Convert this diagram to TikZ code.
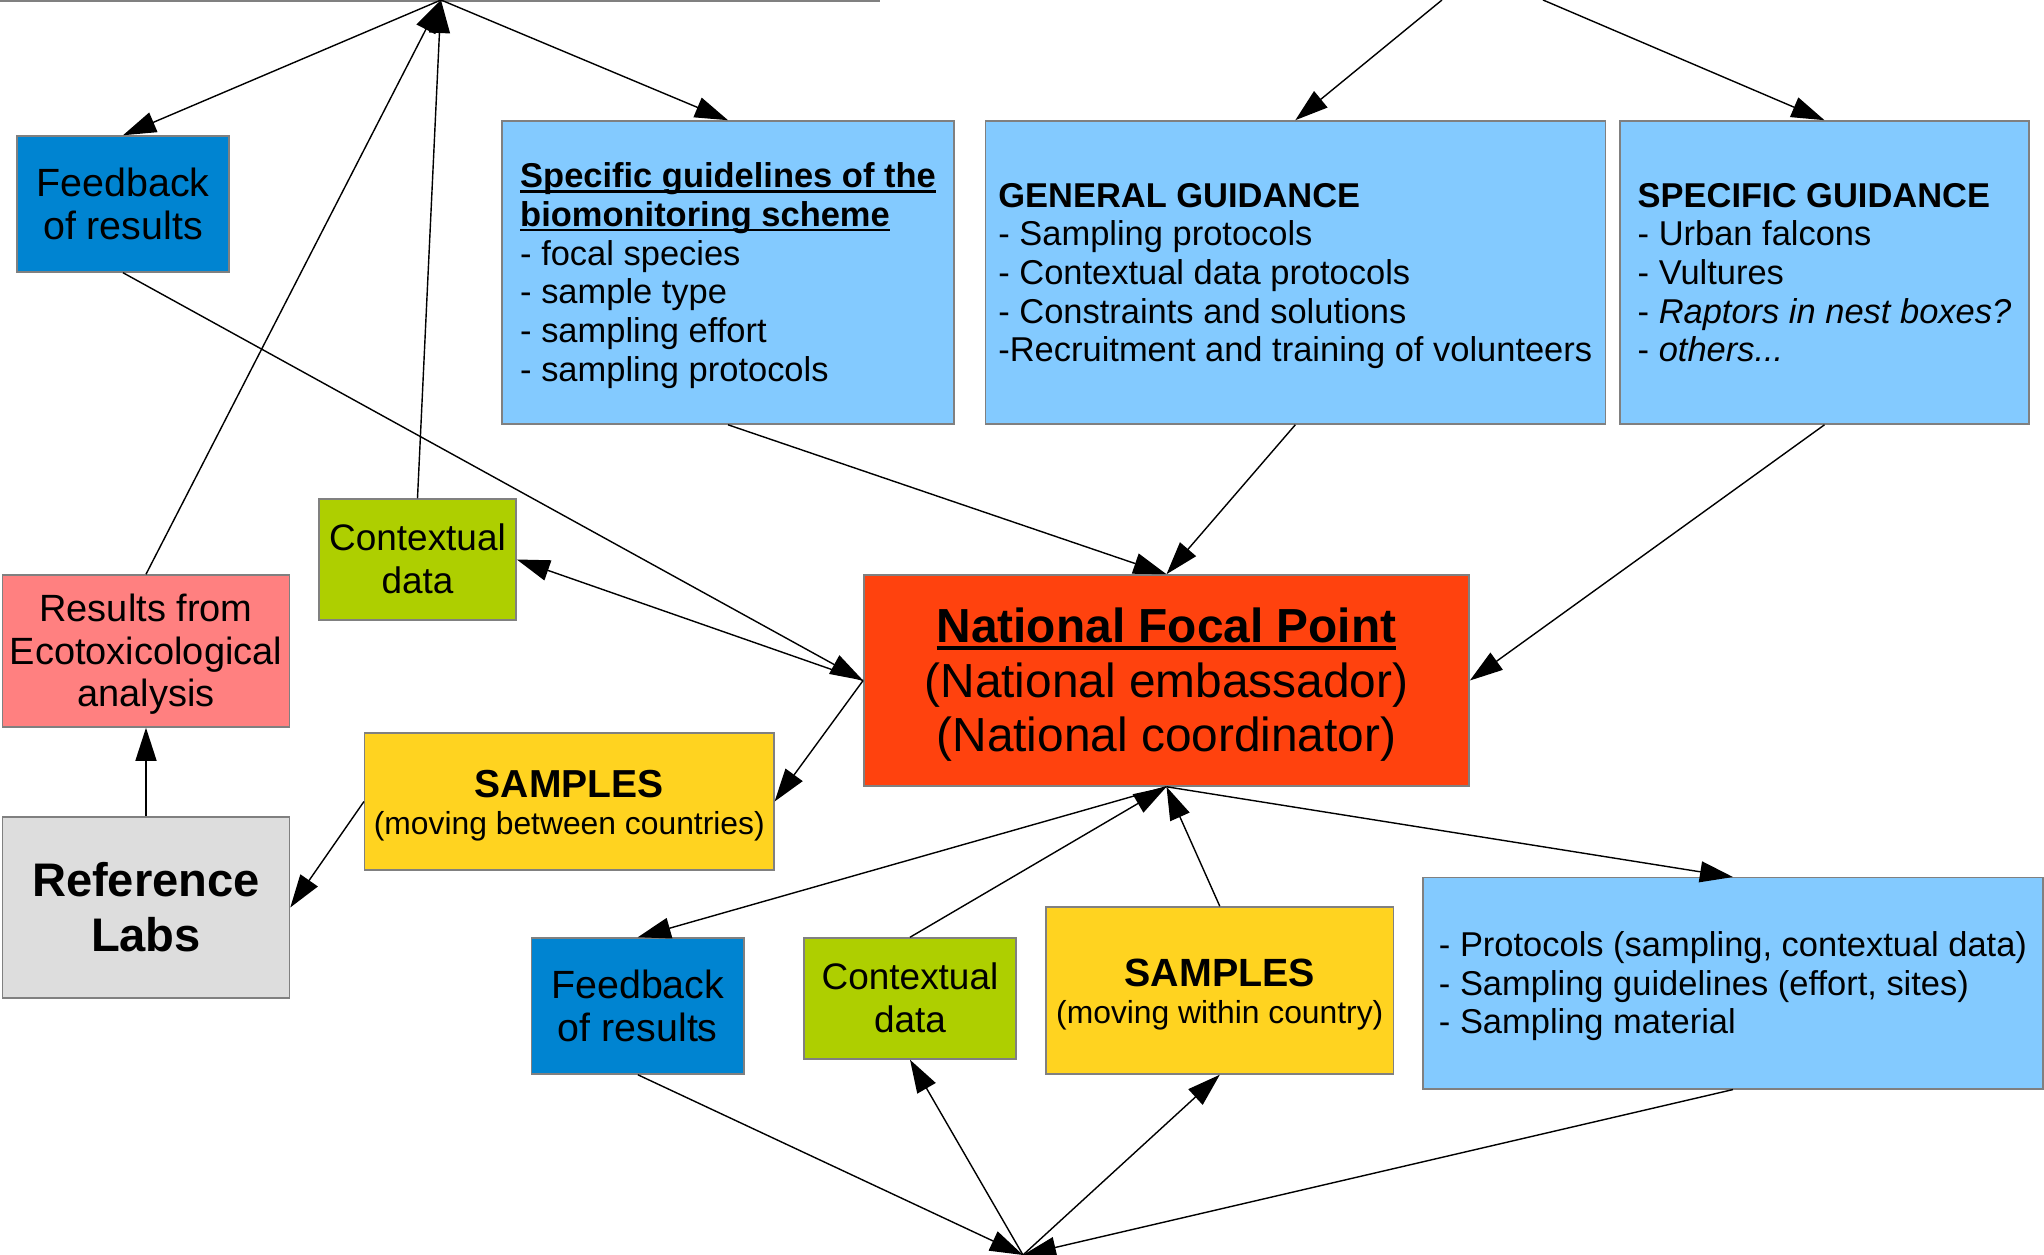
\documentclass[tikz,border=0pt]{standalone}
\usepackage{fontspec}
\setmainfont{Liberation Sans}
\usetikzlibrary{arrows.meta}

\definecolor{fbblue}{HTML}{0084D1}
\definecolor{guideblue}{HTML}{83CAFF}
\definecolor{ctxgreen}{HTML}{AECF00}
\definecolor{respink}{HTML}{FF8080}
\definecolor{nfporange}{HTML}{FF420E}
\definecolor{sampyellow}{HTML}{FFD320}
\definecolor{labgray}{HTML}{DDDDDD}
\definecolor{edgegray}{HTML}{808080}

% line box struts (ascent / descent of the font)
\newcommand\tstr{\rule{0pt}{0.905em}}
\newcommand\bstr{\rule[-0.212em]{0pt}{0pt}}
% underline close to the baseline, through the descenders
\newcommand\ultext[1]{\setbox0=\hbox{#1}\rlap{\rule[-0.143em]{\wd0}{0.075em}}\box0}

\begin{document}
\begin{tikzpicture}[x=0.01cm, y=-0.01cm,
	box/.style={draw=edgegray, line width=0.4pt, inner sep=0pt, text=black},
	guide/.style={box, fill=guideblue, align=left, font=\fontsize{9.8pt}{11pt}\selectfont},
	fbbox/.style={box, fill=fbblue, align=center, minimum width=2.12cm, minimum height=1.36cm, font=\fontsize{11.2pt}{12.2pt}\selectfont},
	ctxbox/.style={box, fill=ctxgreen, align=center, minimum width=2.0cm, minimum height=1.21cm, font=\fontsize{10.5pt}{12.2pt}\selectfont},
	sampbox/.style={box, fill=sampyellow, align=center, font=\fontsize{9.05pt}{10.6pt}\selectfont},
	conn/.style={-{Triangle[length=3.3mm,width=2.1mm]}, line width=0.4pt, black}]

\useasboundingbox (0,0) rectangle (2044,1255);

% remnant of the frame above
\draw[edgegray, line width=0.6pt] (0,1) -- (880,1);

\coordinate (hubTL) at (441,0);
\coordinate (hubTRa) at (1442,0);
\coordinate (hubTRb) at (1543,0);
\coordinate (hubB) at (1023,1255);

% top row
\node[fbbox] (fbTop) at (123,204) {\tstr Feedback\\of results\bstr};
\node[guide, minimum width=4.52cm, minimum height=3.03cm] (specGuide) at (728,272.5)
	{\tstr\textbf{\ultext{Specific guidelines of the}}\\\textbf{\ultext{biomonitoring scheme}}\\- focal species\\- sample type\\- sampling effort\\- sampling protocols\bstr};
\node[guide, minimum width=6.195cm, minimum height=3.03cm] (genGuide) at (1295.3,272.5)
	{\tstr\textbf{GENERAL GUIDANCE}\\- Sampling protocols\\- Contextual data protocols\\- Constraints and solutions\\-Recruitment and training of volunteers\bstr};
\node[guide, minimum width=4.09cm, minimum height=3.03cm] (specGuid2) at (1824.5,272.5)
	{\tstr\textbf{SPECIFIC GUIDANCE}\\- Urban falcons\\- Vultures\\- \textit{Raptors in nest boxes?}\\- \textit{others...}\bstr};

% middle
\node[ctxbox, minimum width=1.97cm] (ctxTop) at (417.5,559.5) {\tstr Contextual\\data\bstr};
\node[box, fill=respink, align=center, minimum width=2.87cm, minimum height=1.52cm,
	font=\fontsize{10.8pt}{12.1pt}\selectfont] (results) at (146,651) {\tstr Results from\\Ecotoxicological\\analysis\bstr};
\node[box, fill=nfporange, align=center, minimum width=6.05cm, minimum height=2.11cm,
	font=\fontsize{13.6pt}{15.4pt}\selectfont] (nfp) at (1166.5,680.5)
	{\tstr\textbf{\ultext{National Focal Point}}\\(National embassador)\\(National coordinator)\bstr};
\node[sampbox, minimum width=4.09cm, minimum height=1.37cm] (samplesA) at (569.3,801.5)
	{{\fontsize{11.1pt}{10.6pt}\bfseries\tstr SAMPLES}\\(moving between countries)\bstr};
\node[box, fill=labgray, align=center, minimum width=2.87cm, minimum height=1.81cm,
	font=\fontsize{13.4pt}{15.6pt}\selectfont\bfseries] (refLabs) at (146,907.5) {\tstr Reference\\Labs\bstr};

% bottom row
\node[fbbox] (fbBot) at (637.8,1006) {\tstr Feedback\\of results\bstr};
\node[ctxbox, minimum width=2.12cm] (ctxBot) at (910,998.5) {\tstr Contextual\\data\bstr};
\node[sampbox, minimum width=3.475cm, minimum height=1.67cm] (samplesB) at (1219.8,990.5)
	{{\fontsize{11.2pt}{10.6pt}\bfseries\tstr SAMPLES}\\(moving within country)\bstr};
\node[guide, minimum width=6.2cm, minimum height=2.11cm] (protocols) at (1733,983.3)
	{\tstr- Protocols (sampling, contextual data)\\- Sampling guidelines (effort, sites)\\- Sampling material\bstr};

% connectors
\draw[conn] (hubTL) -- (fbTop.north);
\draw[conn] (hubTL) -- (specGuide.north);
\draw[conn] (results.north) -- (hubTL);
\draw[conn] (ctxTop.north) -- (hubTL);
\draw[conn] (hubTRa) -- (genGuide.north);
\draw[conn] (hubTRb) -- (specGuid2.north);

\draw[conn] (fbTop.south) -- (nfp.west);
\draw[conn] (nfp.west) -- (ctxTop.east);
\draw[conn] (nfp.west) -- (samplesA.east);
\draw[conn] (samplesA.west) -- (refLabs.east);
\draw[conn] (refLabs.north) -- (results.south);

\draw[conn] (specGuide.south) -- (nfp.north);
\draw[conn] (genGuide.south) -- (nfp.north);
\draw[conn] (specGuid2.south) -- (nfp.east);

\draw[conn] (nfp.south) -- (fbBot.north);
\draw[conn] (ctxBot.north) -- (nfp.south);
\draw[conn] (samplesB.north) -- (nfp.south);
\draw[conn] (nfp.south) -- (protocols.north);

\draw[conn] (fbBot.south) -- (hubB);
\draw[conn] (hubB) -- (ctxBot.south);
\draw[conn] (hubB) -- (samplesB.south);
\draw[conn] (protocols.south) -- (hubB);

\end{tikzpicture}
\end{document}
